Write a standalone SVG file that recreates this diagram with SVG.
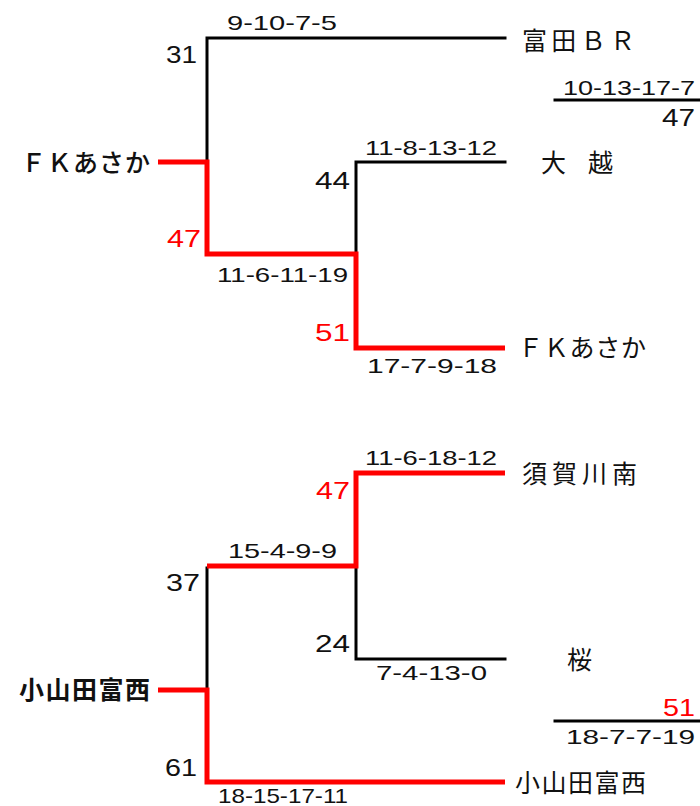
<svg xmlns="http://www.w3.org/2000/svg" width="700" height="806" viewBox="0 0 700 806">
<style>
text{font-family:"Liberation Sans","Noto Sans CJK JP",sans-serif;fill:#111}
.s{font-size:21px}
.b{font-size:23px}
.n{font-size:25px;font-family:"Noto Sans CJK JP",sans-serif}
.r{fill:#ff0000}
.k{fill:none;stroke:#000;stroke-width:3;stroke-linecap:square}
.w{fill:none;stroke:#ff0000;stroke-width:5;stroke-linejoin:miter}
</style>
<rect width="700" height="806" fill="#fff"/>
<g id="connectors">
<path class="k" d="M505,38 H207 V160"/>
<path class="k" d="M505,162 H356 V252"/>
<path class="w" d="M158,162 H207 V254 H356 V348 H505"/>
<path class="k" d="M555,100 H700"/>
<path class="k" d="M207,568 V688"/>
<path class="k" d="M356,568 V659 H505"/>
<path class="w" d="M207,566 H356 V473 H505"/>
<path class="w" d="M158,690 H207 V782 H505"/>
<path class="k" d="M555,721 H700"/>
</g>
<g id="node-fk-left"><text class="n" x="21" y="172" textLength="129" lengthAdjust="spacing" style="font-weight:500">ＦＫあさか</text></g>
<g id="node-tomita"><text class="n" x="522" y="50" textLength="113" lengthAdjust="spacing">富田ＢＲ</text></g>
<g id="node-ogoshi"><text class="n" x="541 588" y="172">大越</text></g>
<g id="node-fk-right"><text class="n" x="518" y="357" textLength="128" lengthAdjust="spacing">ＦＫあさか</text></g>
<g id="node-sukagawa"><text class="n" x="522" y="483" textLength="115" lengthAdjust="spacing">須賀川南</text></g>
<g id="node-sakura"><text class="n" x="567" y="669">桜</text></g>
<g id="node-oyamada-right"><text class="n" x="515" y="792" textLength="131" lengthAdjust="spacing">小山田富西</text></g>
<g id="node-oyamada-left"><text class="n" x="19" y="699" textLength="131" lengthAdjust="spacing" style="font-weight:bold">小山田富西</text></g>
<g id="scores">
<text class="s" x="227" y="30" textLength="110" lengthAdjust="spacingAndGlyphs">9-10-7-5</text>
<text class="b" x="166" y="63" textLength="31" lengthAdjust="spacingAndGlyphs">31</text>
<text class="b" x="315" y="189" textLength="35" lengthAdjust="spacingAndGlyphs">44</text>
<text class="b r" x="167" y="247" textLength="34" lengthAdjust="spacingAndGlyphs">47</text>
<text class="s" x="217" y="282" textLength="131" lengthAdjust="spacingAndGlyphs">11-6-11-19</text>
<text class="b r" x="315" y="341" textLength="35" lengthAdjust="spacingAndGlyphs">51</text>
<text class="s" x="563" y="95" textLength="132" lengthAdjust="spacingAndGlyphs">10-13-17-7</text>
<text class="b" x="662" y="126" textLength="33" lengthAdjust="spacingAndGlyphs">47</text>
<text class="s" x="365" y="155" textLength="132" lengthAdjust="spacingAndGlyphs">11-8-13-12</text>
<text class="s" x="367" y="373" textLength="130" lengthAdjust="spacingAndGlyphs">17-7-9-18</text>
<text class="b r" x="316" y="499" textLength="34" lengthAdjust="spacingAndGlyphs">47</text>
<text class="s" x="228" y="558" textLength="109" lengthAdjust="spacingAndGlyphs">15-4-9-9</text>
<text class="b" x="166" y="591" textLength="34" lengthAdjust="spacingAndGlyphs">37</text>
<text class="b" x="315" y="652" textLength="35" lengthAdjust="spacingAndGlyphs">24</text>
<text class="b" x="165" y="776" textLength="32" lengthAdjust="spacingAndGlyphs">61</text>
<text class="s" x="218" y="803" textLength="130" lengthAdjust="spacingAndGlyphs">18-15-17-11</text>
<text class="s" x="365" y="465" textLength="132" lengthAdjust="spacingAndGlyphs">11-6-18-12</text>
<text class="s" x="376" y="680" textLength="111" lengthAdjust="spacingAndGlyphs">7-4-13-0</text>
<text class="b r" x="663" y="716" textLength="32" lengthAdjust="spacingAndGlyphs">51</text>
<text class="s" x="566" y="744" textLength="129" lengthAdjust="spacingAndGlyphs">18-7-7-19</text>
</g>
</svg>
